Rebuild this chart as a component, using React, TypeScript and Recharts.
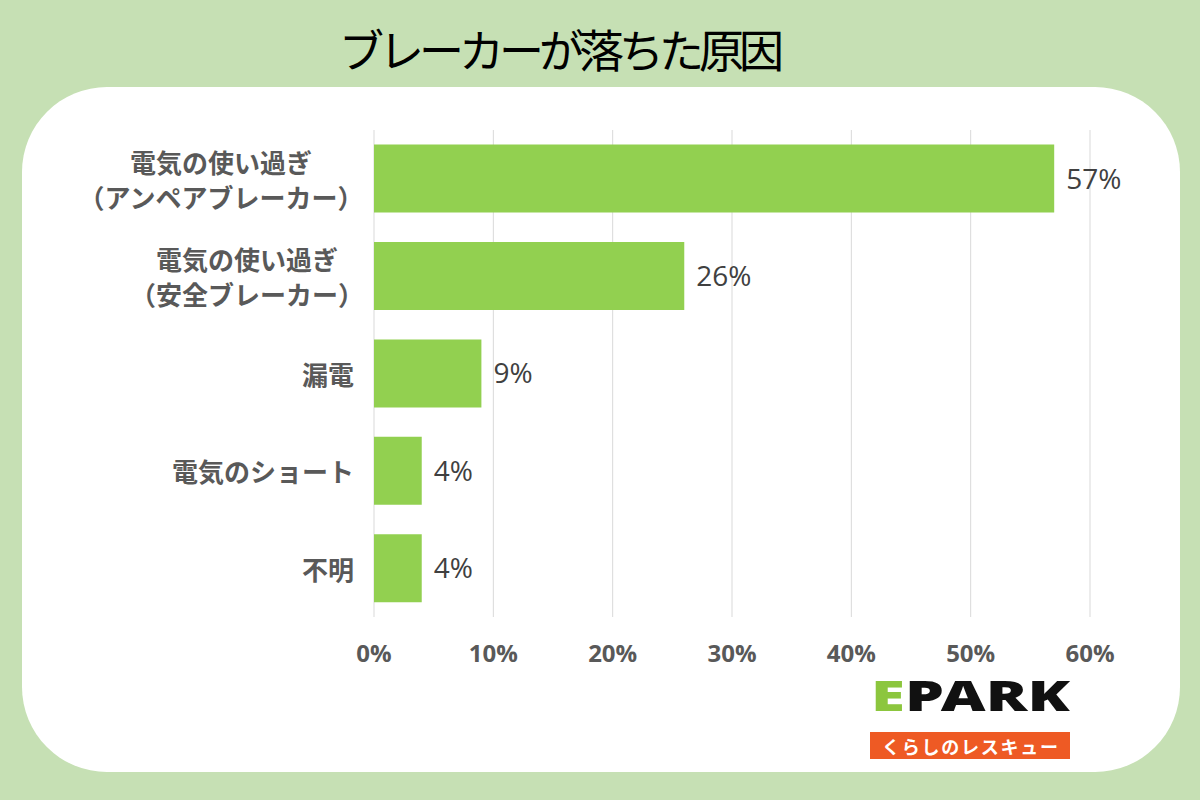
import { BarChart, Bar, XAxis, YAxis, CartesianGrid, LabelList } from "recharts";

const categories = [
  "電気の使い過ぎ\n（アンペアブレーカー）",
  "電気の使い過ぎ\n（安全ブレーカー）",
  "漏電",
  "電気のショート",
  "不明",
];
const shares = [57, 26, 9, 4, 4];
const xTicks = [0, 10, 20, 30, 40, 50, 60];

const data = categories.map((name, i) => ({ name, value: shares[i] }));

const CJK = '"Noto Sans CJK JP", "Noto Sans", sans-serif';
const LABEL_SIZE = 26;

// multi-line category label, each line centred inside the block
function CategoryTick({ x, y, payload }: any) {
  const lines = String(payload.value).split("\n");
  const widest = Math.max(...lines.map((l) => l.length)) * LABEL_SIZE;
  const right = lines.length > 1 ? x + 10 : x;
  const cx = right - widest / 2;
  const gap = 35;
  const top = y - ((lines.length - 1) * gap) / 2;
  return (
    <g>
      {lines.map((line, i) => (
        <text
          key={i}
          x={lines.length > 1 ? cx : x}
          y={top + i * gap}
          textAnchor={lines.length > 1 ? "middle" : "end"}
          dominantBaseline="central"
          fill="#595959"
          fontFamily={CJK}
          fontWeight={700}
          fontSize={LABEL_SIZE}
        >
          {line}
        </text>
      ))}
    </g>
  );
}

function Logo() {
  return (
    <svg width={1200} height={800} style={{ position: "absolute", left: 0, top: 0 }}>
      <text
        x={871}
        y={711}
        fontFamily='"Noto Sans", sans-serif'
        fontWeight={900}
        fontSize={42}
        textLength={199}
        lengthAdjust="spacingAndGlyphs"
      >
        <tspan fill="#8cc63e">E</tspan>
        <tspan fill="#111">PARK</tspan>
      </text>
      <rect x={870} y={732} width={200} height={27} fill="#ee5a24" />
      <text
        x={970}
        y={746}
        textAnchor="middle"
        dominantBaseline="central"
        fill="#fff"
        fontFamily={CJK}
        fontWeight={700}
        fontSize={18}
        textLength={176}
        lengthAdjust="spacing"
      >
        くらしのレスキュー
      </text>
    </svg>
  );
}

export default function App() {
  return (
    <div
      style={{
        position: "fixed",
        left: 0,
        top: 0,
        width: 1200,
        height: 800,
        background: "#c6e0b4",
        overflow: "hidden",
      }}
    >
      <div
        style={{
          position: "absolute",
          left: 22,
          top: 87,
          width: 1158,
          height: 685,
          background: "#fff",
          borderRadius: 85,
        }}
      />
      <div
        style={{
          position: "absolute",
          left: 339,
          top: 23,
          fontFamily: CJK,
          fontSize: 45,
          letterSpacing: -5,
          lineHeight: "52px",
          color: "#000",
          whiteSpace: "nowrap",
        }}
      >
        ブレーカーが落ちた原因
      </div>
      <div style={{ position: "absolute", left: 0, top: 0 }}>
        <BarChart
          layout="vertical"
          width={1200}
          height={800}
          data={data}
          margin={{ top: 130, right: 110, bottom: 123, left: 34 }}
          barCategoryGap="15%"
        >
          <CartesianGrid horizontal={false} stroke="#d9d9d9" />
          <XAxis
            type="number"
            domain={[0, 60]}
            ticks={xTicks}
            tickFormatter={(v) => `${v}%`}
            axisLine={false}
            tickLine={false}
            tickSize={0}
            tickMargin={28}
            height={60}
            interval={0}
            tick={{
              fill: "#595959",
              fontFamily: '"Open Sans", sans-serif',
              fontWeight: 700,
              fontSize: 24,
            }}
          />
          <YAxis
            type="category"
            dataKey="name"
            width={340}
            axisLine={false}
            tickLine={false}
            tickSize={0}
            tickMargin={20}
            interval={0}
            tick={<CategoryTick />}
          />
          <Bar dataKey="value" fill="#92d050" isAnimationActive={false}>
            <LabelList
              dataKey="value"
              position="right"
              offset={12}
              formatter={(v: any) => `${v}%`}
              fill="#404040"
              fontFamily='"Open Sans", sans-serif'
              fontSize={28}
            />
          </Bar>
        </BarChart>
      </div>
      <Logo />
    </div>
  );
}
